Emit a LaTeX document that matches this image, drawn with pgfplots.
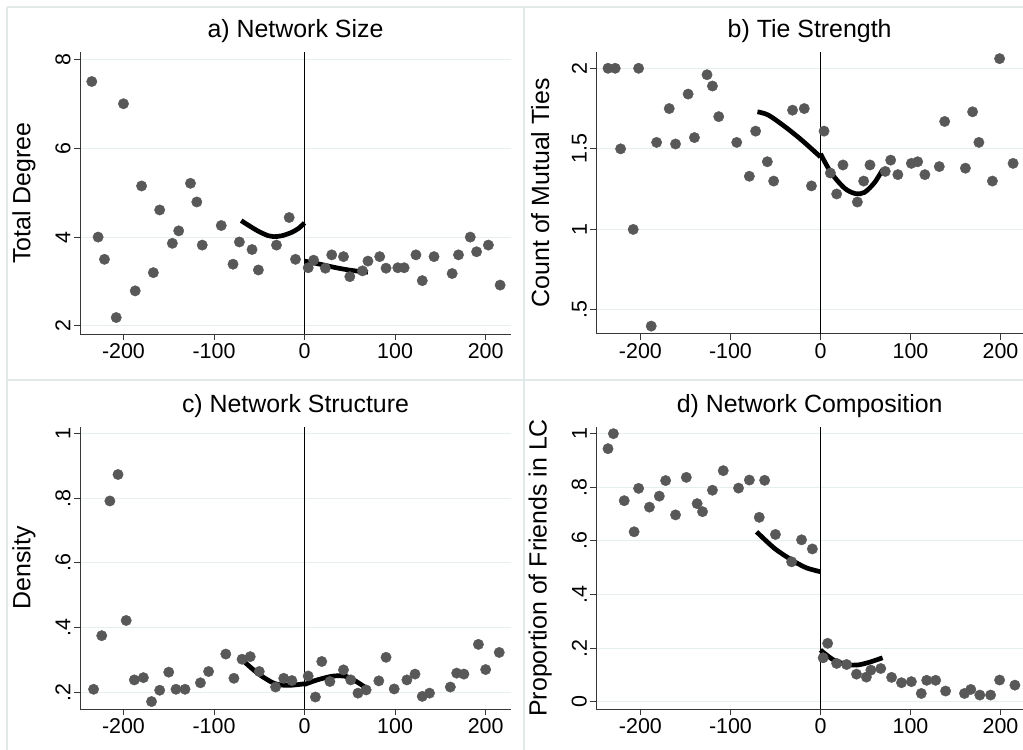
\documentclass[border=0pt]{standalone}
\usepackage{pgfplots}
\pgfplotsset{compat=1.18}
\usepackage{fontspec}
\setmainfont{Liberation Sans}

\definecolor{mk}{RGB}{88,88,88}
\definecolor{gridc}{RGB}{231,238,238}
\definecolor{bordc}{RGB}{226,233,233}
\definecolor{axc}{RGB}{55,55,55}

\pgfplotsset{
  panel/.style={
    scale only axis, anchor=south west,
    axis x line*=bottom, axis y line*=left,
    axis line style={-, draw=axc, line width=1bp},
    tick align=outside, major tick length=6bp,
    every tick/.style={draw=axc, line width=1bp},
    xtick={-200,-100,0,100,200},
    xticklabels={-200,-100,0,100,200},
    ymajorgrids, major grid style={draw=gridc, line width=1bp},
    tick label style={font=\fontsize{21.5}{25}\selectfont},
    yticklabel style={rotate=90, anchor=south},
    title style={at={(0.5,1)}, anchor=base, yshift=8.5bp, font=\fontsize{25}{30}\selectfont},
    every axis y label/.style={at={(axis description cs:0,0.5)}, xshift=-56bp, rotate=90, anchor=center, font=\fontsize{25}{30}\selectfont},
  },
  pts/.style={only marks, mark=*, mark size=5.2bp, mark options={fill=mk, draw=none}, color=mk},
  fit/.style={black, line width=4.7bp, smooth, no marks},
  zl/.style={black, line width=1.2bp, no marks},
}

\begin{document}
\begin{tikzpicture}
\useasboundingbox (0,0) rectangle (1023bp,750bp);
\fill[white] (0,0) rectangle (1023bp,750bp);
\draw[bordc, line width=1.2bp] (7bp,0) -- (7bp,743bp);
\draw[bordc, line width=1.2bp] (7bp,743bp) -- (1023bp,743bp);
\draw[bordc, line width=1.2bp] (524bp,0) -- (524bp,743bp);
\draw[bordc, line width=1.2bp] (7bp,370bp) -- (1023bp,370bp);

% ---------------- a) Network Size
\begin{axis}[panel, at={(80bp,415.7bp)}, width=431bp, height=282.6bp,
  xmin=-248, xmax=228, ymin=1.813, ymax=8.171,
  ytick={2,4,6,8}, yticklabels={2,4,6,8},
  title={a) Network Size}, ylabel={Total Degree}]
\addplot[zl] coordinates {(0,1.813) (0,8.171)};
\addplot[pts] coordinates {
(-235,7.50) (-228,4.00) (-221,3.50) (-208,2.19) (-200,7.00) (-187,2.79)
(-180,5.15) (-167,3.20) (-160,4.61) (-146,3.86) (-139,4.14) (-126,5.21)
(-119,4.79) (-113,3.82) (-92,4.26) (-79,3.39) (-72,3.89) (-58,3.72)
(-51,3.26) (-31,3.82) (-17,4.44) (-10,3.50) (4,3.31) (10,3.48)
(23,3.30) (30,3.60) (43,3.56) (50,3.11) (64,3.24) (70,3.46)
(83,3.56) (90,3.30) (103,3.31) (110,3.31) (123,3.60) (130,3.02)
(143,3.56) (163,3.18) (170,3.60) (183,4.00) (190,3.67) (203,3.82) (216,2.92)};
\addplot[fit] coordinates {(-70,4.37) (-60,4.24) (-50,4.12) (-40,4.03) (-34,4.01) (-25,4.03) (-15,4.10) (-7,4.19) (0,4.32)};
\addplot[fit] coordinates {(0,3.46) (17,3.39) (35,3.31) (52,3.25) (70,3.21)};
\end{axis}

% ---------------- b) Tie Strength
\begin{axis}[panel, at={(596.3bp,416bp)}, width=426.7bp, height=282.3bp,
  xmin=-249, xmax=225, ymin=0.351, ymax=2.103,
  ytick={0.5,1,1.5,2}, yticklabels={.5,1,1.5,2},
  title={b) Tie Strength}, ylabel={Count of Mutual Ties}]
\addplot[zl] coordinates {(0,0.351) (0,2.103)};
\addplot[pts] coordinates {
(-236,2.00) (-228,2.00) (-222,1.50) (-208,1.00) (-202,2.00) (-188,0.40)
(-182,1.54) (-168,1.75) (-161,1.53) (-147,1.84) (-140,1.57) (-126,1.96)
(-120,1.89) (-113,1.70) (-93,1.54) (-79,1.33) (-72,1.61) (-59,1.42)
(-52,1.30) (-31,1.74) (-18,1.75) (-10,1.27) (4,1.61) (11,1.35)
(18,1.22) (25,1.40) (41,1.17) (48,1.30) (55,1.40) (72,1.36)
(78,1.43) (86,1.34) (101,1.41) (108,1.42) (116,1.34) (132,1.39)
(138,1.67) (161,1.38) (169,1.73) (176,1.54) (191,1.30) (199,2.06) (214,1.41)};
\addplot[fit] coordinates {(-70,1.73) (-58,1.71) (-40,1.64) (-21,1.555) (0,1.45)};
\addplot[fit] coordinates {(0,1.47) (12,1.35) (27,1.255) (39,1.222) (49,1.23) (60,1.29) (69,1.37)};
\end{axis}

% ---------------- c) Network Structure
\begin{axis}[panel, at={(80bp,40.7bp)}, width=431bp, height=282.6bp,
  xmin=-248, xmax=228, ymin=0.147, ymax=1.022,
  ytick={0.2,0.4,0.6,0.8,1}, yticklabels={.2,.4,.6,.8,1},
  title={c) Network Structure}, ylabel={Density}]
\addplot[zl] coordinates {(0,0.147) (0,1.022)};
\addplot[pts] coordinates {
(-233,0.209) (-224,0.375) (-215,0.792) (-206,0.874) (-197,0.422) (-188,0.238)
(-178,0.245) (-169,0.171) (-160,0.206) (-150,0.262) (-142,0.209) (-132,0.209)
(-115,0.229) (-106,0.264) (-87,0.318) (-78,0.243) (-69,0.302) (-60,0.310)
(-50,0.264) (-32,0.216) (-23,0.243) (-14,0.236) (4,0.250) (12,0.185)
(19,0.295) (28,0.233) (43,0.269) (51,0.238) (59,0.197) (68,0.207)
(82,0.235) (90,0.308) (99,0.210) (113,0.238) (122,0.256) (130,0.187)
(138,0.197) (161,0.216) (168,0.259) (176,0.256) (192,0.348) (200,0.270) (215,0.323)};
\addplot[fit] coordinates {(-70,0.303) (-52,0.259) (-34,0.228) (-19,0.221) (0,0.226)};
\addplot[fit] coordinates {(0,0.224) (14,0.238) (32,0.250) (47,0.248) (60,0.228) (70,0.209)};
\end{axis}

% ---------------- d) Network Composition
\begin{axis}[panel, at={(596.3bp,41bp)}, width=426.7bp, height=282.3bp,
  xmin=-249, xmax=225, ymin=-0.027, ymax=1.026,
  ytick={0,0.2,0.4,0.6,0.8,1}, yticklabels={0,.2,.4,.6,.8,1},
  title={d) Network Composition}, ylabel={Proportion of Friends in LC}]
\addplot[zl] coordinates {(0,-0.027) (0,1.026)};
\addplot[pts] coordinates {
(-236,0.944) (-230,1.000) (-218,0.750) (-207,0.634) (-202,0.796) (-190,0.726)
(-179,0.767) (-172,0.825) (-161,0.697) (-149,0.837) (-137,0.739) (-131,0.709)
(-120,0.789) (-108,0.862) (-91,0.797) (-79,0.827) (-68,0.688) (-62,0.826)
(-50,0.624) (-32,0.522) (-21,0.604) (-9,0.570) (3,0.164) (8,0.218)
(18,0.143) (29,0.139) (40,0.103) (51,0.092) (56,0.118) (67,0.124)
(79,0.091) (90,0.071) (101,0.075) (112,0.031) (118,0.080) (128,0.080)
(139,0.040) (160,0.031) (167,0.046) (177,0.025) (189,0.025) (199,0.081) (216,0.062)};
\addplot[fit] coordinates {(-71,0.634) (-51,0.572) (-32,0.529) (-16,0.500) (0,0.485)};
\addplot[fit] coordinates {(0,0.193) (15,0.155) (30,0.139) (41,0.137) (54,0.147) (69,0.164)};
\end{axis}
\end{tikzpicture}
\end{document}
